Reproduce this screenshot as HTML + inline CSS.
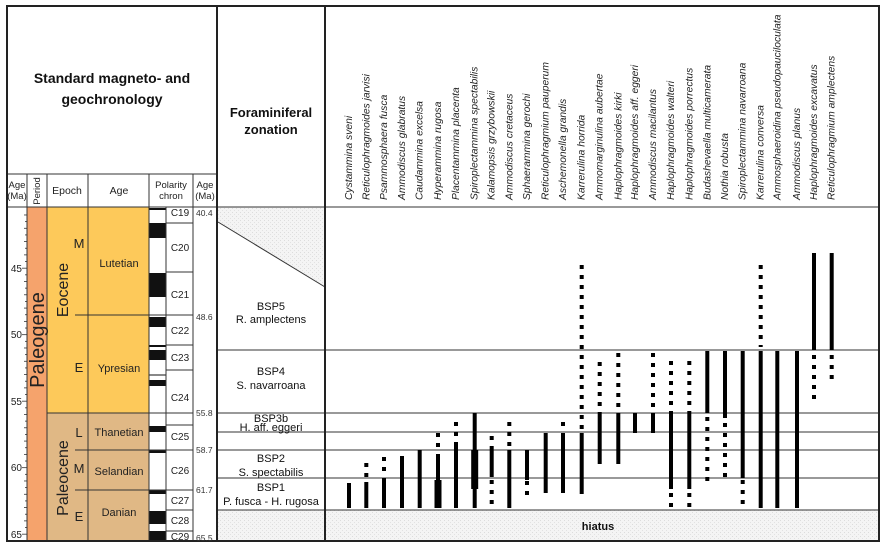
<!DOCTYPE html>
<html><head><meta charset="utf-8"><style>
html,body{margin:0;padding:0;background:#fff;}
svg{display:block;font-family:"Liberation Sans",Arial,sans-serif;}
</style></head><body>
<svg width="886" height="548" viewBox="0 0 886 548" xmlns="http://www.w3.org/2000/svg">
<defs>
<pattern id="stip" width="4" height="4" patternUnits="userSpaceOnUse">
<rect width="4" height="4" fill="#f4f4f4"/><rect x="0" y="0" width="1" height="1" fill="#dcdcdc"/><rect x="2" y="2" width="1" height="1" fill="#e2e2e2"/>
</pattern>
</defs>
<rect x="0" y="0" width="886" height="548" fill="#fff"/>
<!-- fills -->
<rect x="27" y="207" width="20" height="334" fill="#f5a36c"/>
<rect x="47" y="207" width="102" height="206" fill="#fdc95a"/>
<rect x="47" y="413" width="102" height="128" fill="#e0b885"/>
<!-- stipple areas -->
<polygon points="218,207 325,207 325,287 218,222" fill="url(#stip)"/>
<rect x="218" y="510" width="661" height="31" fill="url(#stip)"/>
<line x1="218" y1="222" x2="325" y2="287" stroke="#333" stroke-width="1"/>
<!-- polarity blacks -->
<g fill="#111">
<rect x="149" y="208" width="17" height="2"/>
<rect x="149" y="223" width="17" height="15"/>
<rect x="149" y="273" width="17" height="24"/>
<rect x="149" y="317" width="17" height="10"/>
<rect x="149" y="345" width="17" height="2"/>
<rect x="149" y="350" width="17" height="10"/>
<rect x="149" y="374" width="17" height="2" fill="#888"/>
<rect x="149" y="380" width="17" height="6"/>
<rect x="149" y="426" width="17" height="6"/>
<rect x="149" y="450" width="17" height="3"/>
<rect x="149" y="490" width="17" height="4"/>
<rect x="149" y="511" width="17" height="13"/>
<rect x="149" y="531" width="17" height="10"/>
</g>
<!-- grid lines -->
<g stroke="#333" stroke-width="1" fill="none">
<line x1="7" y1="174" x2="217" y2="174"/>
<line x1="7" y1="207" x2="879" y2="207"/>
<line x1="27" y1="174" x2="27" y2="541"/>
<line x1="47" y1="174" x2="47" y2="541"/>
<line x1="88" y1="174" x2="88" y2="541"/>
<line x1="149" y1="174" x2="149" y2="541"/>
<line x1="166" y1="207" x2="166" y2="541"/>
<line x1="193" y1="174" x2="193" y2="541"/>
<line x1="47" y1="413" x2="193" y2="413"/>
<line x1="75" y1="315" x2="193" y2="315"/>
<line x1="75" y1="450" x2="193" y2="450"/>
<line x1="75" y1="490" x2="193" y2="490"/>
<line x1="166" y1="223" x2="193" y2="223"/>
<line x1="166" y1="272" x2="193" y2="272"/>
<line x1="166" y1="345" x2="193" y2="345"/>
<line x1="166" y1="370" x2="193" y2="370"/>
<line x1="166" y1="425" x2="193" y2="425"/>
<line x1="166" y1="510" x2="193" y2="510"/>
<line x1="166" y1="531" x2="193" y2="531"/>
<line x1="218" y1="350" x2="879" y2="350"/>
<line x1="218" y1="413" x2="879" y2="413"/>
<line x1="218" y1="432" x2="879" y2="432"/>
<line x1="218" y1="450" x2="879" y2="450"/>
<line x1="218" y1="478" x2="879" y2="478"/>
<line x1="218" y1="510" x2="879" y2="510"/>
</g>
<g stroke="#222" stroke-width="2" fill="none">
<rect x="7" y="6" width="872" height="535"/>
<line x1="217" y1="6" x2="217" y2="541"/>
<line x1="325" y1="6" x2="325" y2="541"/>
</g>
<!-- age ticks -->
<g stroke="#333" stroke-width="0.8" id="ticks"></g>
<g font-size="10" fill="#222" text-anchor="end">
<text x="22" y="272">45</text><text x="22" y="338">50</text><text x="22" y="405">55</text><text x="22" y="471">60</text><text x="22" y="538">65</text>
</g>
<!-- headers -->
<g font-weight="bold" font-size="14" text-anchor="middle" fill="#111">
<text x="112" y="83">Standard magneto- and</text>
<text x="112" y="104">geochronology</text>
<text x="271" y="117" font-size="13">Foraminiferal</text>
<text x="271" y="134" font-size="13">zonation</text>
</g>
<g font-size="9.5" text-anchor="middle" fill="#222">
<text x="17" y="188">Age</text><text x="17" y="199">(Ma)</text>
<text transform="translate(40,191) rotate(-90)">Period</text>
<text x="67" y="194" font-size="10.5">Epoch</text>
<text x="119" y="194" font-size="10.5">Age</text>
<text x="171" y="188">Polarity</text><text x="171" y="199">chron</text>
<text x="205" y="188">Age</text><text x="205" y="199">(Ma)</text>
</g>
<g font-size="10" fill="#222" text-anchor="middle">
<text x="180" y="216">C19</text><text x="180" y="251">C20</text><text x="180" y="298">C21</text>
<text x="180" y="334">C22</text><text x="180" y="361">C23</text><text x="180" y="401">C24</text>
<text x="180" y="440">C25</text><text x="180" y="474">C26</text><text x="180" y="504">C27</text>
<text x="180" y="524">C28</text><text x="180" y="540">C29</text>
</g>
<g font-size="8.5" fill="#333">
<text x="196" y="216">40.4</text><text x="196" y="320">48.6</text><text x="196" y="416">55.8</text>
<text x="196" y="453">58.7</text><text x="196" y="493">61.7</text><text x="196" y="541">65.5</text>
</g>
<g font-size="20" fill="#222" text-anchor="middle">
<text transform="translate(44,340) rotate(-90)">Paleogene</text>
</g>
<g font-size="16" fill="#222" text-anchor="middle">
<text transform="translate(68,290) rotate(-90)">Eocene</text>
<text transform="translate(68,478) rotate(-90)">Paleocene</text>
</g>
<g font-size="13" fill="#222" text-anchor="middle">
<text x="79" y="248">M</text><text x="79" y="372">E</text>
<text x="79" y="437">L</text><text x="79" y="473">M</text><text x="79" y="521">E</text>
</g>
<g font-size="11" fill="#222" text-anchor="middle">
<text x="119" y="267">Lutetian</text><text x="119" y="372">Ypresian</text>
<text x="119" y="436">Thanetian</text><text x="119" y="475">Selandian</text><text x="119" y="516">Danian</text>
</g>
<g font-size="11" fill="#111" text-anchor="middle">
<text x="271" y="310">BSP5</text><text x="271" y="323">R. amplectens</text>
<text x="271" y="375">BSP4</text><text x="271" y="389">S. navarroana</text>
<text x="271" y="422">BSP3b</text><text x="271" y="431">H. aff. eggeri</text>
<text x="271" y="462">BSP2</text><text x="271" y="476">S. spectabilis</text>
<text x="271" y="491">BSP1</text><text x="271" y="505">P. fusca - H. rugosa</text>
<text x="598" y="530" font-weight="bold" font-size="11">hiatus</text>
</g>
<g id="sp" font-size="10.3" font-style="italic" fill="#222"></g>
<g id="bars"></g>
<script>
var NS="http://www.w3.org/2000/svg";
var t=document.getElementById("ticks");
for(var a=41;a<=65;a+=0.5){var y=207+(a-40.4)*13.3;var l=document.createElementNS(NS,"line");var len=(a%5==0)?5:(a%1==0?3:2);l.setAttribute("x1",27-len);l.setAttribute("x2",27);l.setAttribute("y1",y);l.setAttribute("y2",y);t.appendChild(l);}
var names=["Cystammina sveni","Reticulophragmoides jarvisi","Psammosphaera fusca","Ammodiscus glabratus","Caudammina excelsa","Hyperammina rugosa","Placentammina placenta","Spiroplectammina spectabilis","Kalamopsis grzybowskii","Ammodiscus cretaceus","Sphaerammina gerochi","Reticulophragmium pauperum","Aschemonella grandis","Karrerulina horrida","Ammomarginulina aubertae","Haplophragmoides kirki","Haplophragmoides aff. eggeri","Ammodiscus macilantus","Haplophragmoides walteri","Haplophragmoides porrectus","Budashevaella multicamerata","Nothia robusta","Spiroplectammina navarroana","Karrerulina conversa","Ammosphaeroidina pseudopauciloculata","Ammodiscus planus","Haplophragmoides excavatus","Reticulophragmium amplectens"];
var xs=[349,366.3,384,402,419.7,438,456,474.7,491.7,509.3,527,545.7,563,581.7,599.7,618.3,635,653,671,689.3,707.3,725,742.7,760.7,777.3,797,814,831.7];
var sp=document.getElementById("sp");
names.forEach(function(n,i){var tx=document.createElementNS(NS,"text");var x=xs[i]+3;tx.setAttribute("transform","translate("+x+",200) rotate(-90)");tx.textContent=n;sp.appendChild(tx);});
var R=[
[["s",483,508]],
[["d",463,480],["s",482,508]],
[["d",457,473],["s",478,508]],
[["s",456,508]],
[["s",450,508]],
[["d",433,450],["s",454,480],["t",480,508]],
[["d",422,442],["s",442,508]],
[["s",413,450],["t",450,489],["s",489,508]],
[["d",436,450],["s",450,477],["d",480,508]],
[["d",422,450],["s",450,508]],
[["s",450,480],["d",481,498]],
[["s",433,493]],
[["d",422,429],["s",433,493]],
[["d",265,433],["s",433,494]],
[["d",362,413],["s",413,464]],
[["d",353,413],["s",413,464]],
[["s",413,433]],
[["d",353,413],["s",413,433]],
[["d",361,413],["s",413,489],["d",493,508]],
[["d",361,413],["s",413,489],["d",493,508]],
[["s",351,413],["d",417,486]],
[["s",351,418],["d",423,481]],
[["s",351,478],["d",480,508]],
[["d",265,347],["s",351,508]],
[["s",351,508]],
[["s",351,508]],
[["s",253,350],["d",355,403]],
[["s",253,350],["d",355,383]]
];
var b=document.getElementById("bars");
R.forEach(function(segs,i){segs.forEach(function(s){var l=document.createElementNS(NS,"line");l.setAttribute("x1",xs[i]);l.setAttribute("x2",xs[i]);l.setAttribute("y1",s[1]);l.setAttribute("y2",s[2]);l.setAttribute("stroke","#000");l.setAttribute("stroke-width",s[0]=="t"?7:4);if(s[0]=="d")l.setAttribute("stroke-dasharray","4 6");b.appendChild(l);});});
</script>
</svg>
</body></html>
